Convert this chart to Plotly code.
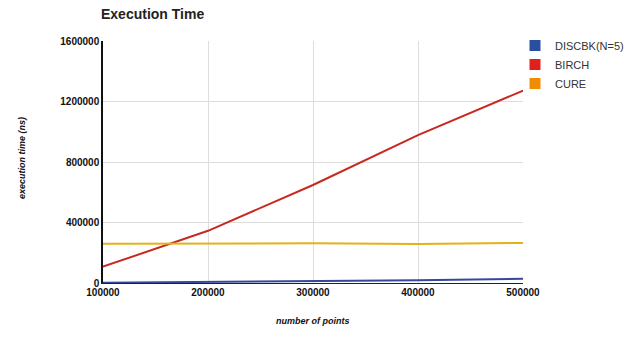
import plotly.graph_objects as go

points = [100000, 200000, 300000, 400000, 500000]
discbk = [2000, 6000, 12000, 18000, 28000]
birch = [108000, 345000, 648000, 978000, 1272000]
cure = [260000, 262000, 262000, 258000, 265000]
x_ticks = [100000, 200000, 300000, 400000, 500000]
y_ticks = [0, 400000, 800000, 1200000, 1600000]

series = [
    ("DISCBK(N=5)", discbk, "#34489c", "#2a4ea0"),
    ("BIRCH", birch, "#c8291f", "#e0201c"),
    ("CURE", cure, "#e3b21a", "#f08c00"),
]

fig = go.Figure()
for name, vals, lc, mc in series:
    fig.add_trace(go.Scatter(x=points, y=vals, mode="lines", line=dict(color=lc, width=2),
                             showlegend=False, hoverinfo="skip"))
for name, vals, lc, mc in series:
    fig.add_trace(go.Scatter(x=[None], y=[None], mode="markers", name=name,
                             marker=dict(symbol="square", size=11, color=mc)))

tick_font = dict(family="Liberation Sans, Arial", size=10, color="#111", weight="bold")
fig.update_layout(
    width=625, height=339,
    margin=dict(l=103, r=102, t=41, b=56, autoexpand=False),
    paper_bgcolor="white", plot_bgcolor="white",
    title=dict(text="<b>Execution Time</b>", x=101/625, xanchor="left", xref="container",
               y=1-14/339, yanchor="middle", yref="container",
               font=dict(family="Liberation Sans, Arial", size=14, color="#222")),
    xaxis=dict(range=[100000, 500000], tickvals=x_ticks, ticktext=[str(v) for v in x_ticks],
               showgrid=True, gridcolor="#ddd", gridwidth=1, zeroline=False,
               showline=True, linecolor="#222", linewidth=1, tickfont=tick_font, ticks=""),
    yaxis=dict(range=[0, 1600000], tickvals=y_ticks, ticktext=[str(v) for v in y_ticks],
               showgrid=True, gridcolor="#ddd", gridwidth=1, zeroline=False,
               showline=True, linecolor="#111", linewidth=1.5, tickfont=tick_font, ticks=""),
    legend=dict(x=(515-103)/420, y=(283-31)/242, xanchor="left", yanchor="top",
                font=dict(family="Liberation Sans, Arial", size=11, color="#333"),
                itemwidth=30, tracegroupgap=0, bgcolor="rgba(0,0,0,0)"),
    showlegend=True,
    annotations=[
        dict(text="<b><i>execution time (ns)</i></b>", x=(15-103)/420, y=(283-158)/242,
             xref="paper", yref="paper", showarrow=False, textangle=-90,
             font=dict(family="Liberation Sans, Arial", size=9, color="#111")),
        dict(text="<b><i>number of points</i></b>", x=(313-103)/420, y=(283-328)/242,
             xref="paper", yref="paper", showarrow=False,
             font=dict(family="Liberation Sans, Arial", size=9, color="#111")),
    ],
)
fig.write_html("out.html", config={"displayModeBar": False},
               post_script="document.body.style.margin='0';document.body.style.overflow='hidden';")
